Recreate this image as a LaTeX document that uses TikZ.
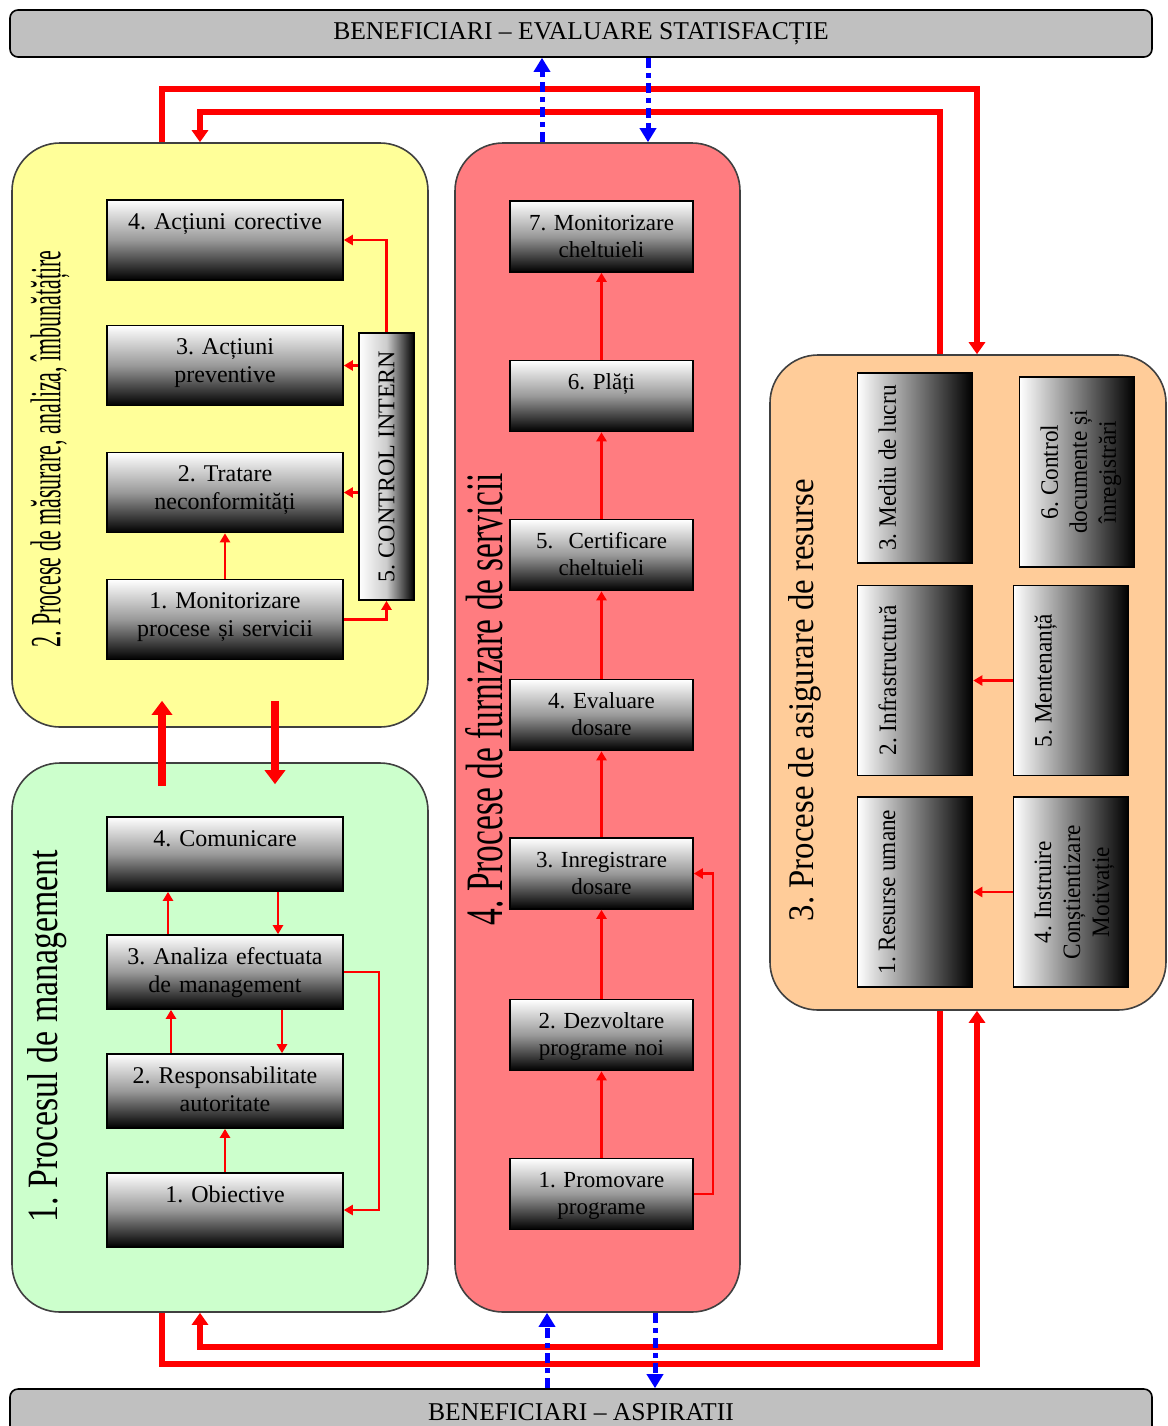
\documentclass[tikz,border=0pt]{standalone}
\usepackage{fontspec}
\setmainfont{Liberation Serif}
\newfontfamily\narrowserif[FakeStretch=0.93]{Liberation Serif}
\usepackage{graphicx}
\frenchspacing
\definecolor{qyellow}{RGB}{255,255,153}
\definecolor{qgreen}{RGB}{204,255,204}
\definecolor{qsalmon}{RGB}{255,124,128}
\definecolor{qpeach}{RGB}{255,204,153}
\definecolor{qgray}{RGB}{192,192,192}
\definecolor{qedge}{RGB}{64,64,64}
\definecolor{qred}{RGB}{255,0,0}
\definecolor{qblue}{RGB}{0,0,255}
\newcommand{\sidetext}[1]{\rotatebox{90}{\parbox[c][57.5pt][t]{92pt}{\vspace{10.5pt}\centering #1}}}
\usetikzlibrary{arrows.meta,positioning,calc}

\begin{document}
\begin{tikzpicture}[x=0.5pt,y=-0.5pt,
  area/.style={draw=qedge,line width=0.8pt,rounded corners=24pt},
  banner/.style={draw=black,line width=0.8pt,fill=qgray,rounded corners=4pt,
    minimum width=571pt,minimum height=23.5pt,font=\fontsize{12.8}{15}\selectfont},
  arealabel/.style={rotate=90,inner sep=0pt},
  procbox/.style={draw=black,line width=0.8pt,top color=white,bottom color=black,
    middle color=black!40,align=center,inner sep=2pt,text height=12.5pt,
    font=\fontsize{12}{14}\selectfont},
  ybox/.style={procbox,text width=114pt,text depth=23.5pt},
  gbox/.style={procbox,text width=114pt,text depth=20.5pt},
  sbox/.style={procbox,text width=87.5pt,text depth=19pt,font=\fontsize{11.5}{13.5}\selectfont},
  rbox/.style={draw=black,line width=0.8pt,left color=white,right color=black,
    minimum width=57.5pt,minimum height=95pt,inner sep=0pt,
    font=\narrowserif\fontsize{12.5}{14.5}\selectfont},
  ctrlbox/.style={draw=black,line width=0.8pt,left color=white,right color=black,
    middle color=black!20,minimum width=27.5pt,minimum height=133.5pt,inner sep=0pt,
    font=\fontsize{12}{14}\selectfont},
  thinarrow/.style={qred,line width=1.2pt,-{Triangle[width=5pt,length=4.5pt]}},
  looparrow/.style={qred,line width=3pt,-{Triangle[width=8pt,length=6pt]}},
  fatarrow/.style={qred,line width=4pt,-{Triangle[width=10pt,length=7pt]}},
  bluearrow/.style={qblue,line width=2.5pt,dash pattern=on 5pt off 2.5pt on 2.5pt off 2.5pt,
    -{Triangle[width=8pt,length=7pt]}}]
  \useasboundingbox (0,0) rectangle (1168,1426);
  % beneficiaries
  \node[banner] (topb) at (581,33.5) {BENEFICIARI -- EVALUARE STATISFACȚIE};
  \node[banner] (botb) at (581,1412.5) {BENEFICIARI -- ASPIRATII};
  % process areas
  \node[area,fill=qyellow,minimum width=208pt,minimum height=292pt] (meas) at (220,435) {};
  \node[area,fill=qgreen,minimum width=208pt,minimum height=274.5pt] (mgmt) at (220,1037.5) {};
  \node[area,fill=qsalmon,minimum width=142.5pt,minimum height=584.5pt] (serv) at (597.5,727.5) {};
  \node[area,fill=qpeach,minimum width=198pt,minimum height=327.5pt] (res) at (968,682.5) {};
  \node[arealabel] (measlbl) at (50,449) {\resizebox{198.5pt}{15pt}{2. Procese de măsurare, analiza, îmbunătățire}};
  \node[arealabel] (mgmtlbl) at (47,1036) {\resizebox{186pt}{15pt}{1. Procesul de management}};
  \node[arealabel] (servlbl) at (484,699) {\resizebox{226pt}{18.5pt}{4. Procese de furnizare de servicii}};
  \node[arealabel] (reslbl) at (805,700) {\resizebox{221pt}{12.5pt}{3. Procese de asigurare de resurse}};

  % 2. masurare, analiza
  \node[ybox] (a4) at (225,240) {4. Acțiuni corective};
  \node[ybox] (a3) at (225,365.5) {3. Acțiuni\\preventive};
  \node[ybox] (a2) at (225,492.5) {2. Tratare\\neconformități};
  \node[ybox] (a1) at (225,619.5) {1. Monitorizare\\procese și servicii};
  \node[ctrlbox] (ctrl) at (386.5,466.5) {\rotatebox{90}{5. CONTROL INTERN}};
  \draw[thinarrow] (a1) -- (a2);
  \draw[thinarrow] (a1.east) -| (ctrl.south);
  \draw[thinarrow] (ctrl.west |- a2) -- (a2.east);
  \draw[thinarrow] (ctrl.west |- a3) -- (a3.east);
  \draw[thinarrow] (ctrl.north) |- (a4.east);

  % 1. management
  \node[gbox] (m4) at (225,854) {4. Comunicare};
  \node[gbox] (m3) at (225,972) {3. Analiza efectuata\\de management};
  \node[gbox] (m2) at (225,1091) {2. Responsabilitate\\autoritate};
  \node[gbox] (m1) at (225,1210) {1. Obiective};
  \draw[thinarrow] ([xshift=-28.5pt]m3.north) -- ([xshift=-28.5pt]m4.south);
  \draw[thinarrow] ([xshift=26.5pt]m4.south) -- ([xshift=26.5pt]m3.north);
  \draw[thinarrow] ([xshift=-27pt]m2.north) -- ([xshift=-27pt]m3.south);
  \draw[thinarrow] ([xshift=28.5pt]m3.south) -- ([xshift=28.5pt]m2.north);
  \draw[thinarrow] (m1) -- (m2);
  \draw[thinarrow] (m3.east) -- ++(17.5pt,0) |- (m1.east);

  % 4. furnizare de servicii
  \node[sbox] (s7) at (601.5,236.5) {7. Monitorizare\\cheltuieli};
  \node[sbox] (s6) at (601.5,396) {6. Plăți};
  \node[sbox] (s5) at (601.5,555) {5.\ \ Certificare\\cheltuieli};
  \node[sbox] (s4) at (601.5,715) {4. Evaluare\\dosare};
  \node[sbox] (s3) at (601.5,873.5) {3. Inregistrare\\dosare};
  \node[sbox] (s2) at (601.5,1035) {2. Dezvoltare\\programe noi};
  \node[sbox] (s1) at (601.5,1194) {1. Promovare\\programe};
  \foreach \i/\j in {1/2,2/3,3/4,4/5,5/6,6/7}
    \draw[thinarrow] (s\i) -- (s\j);
  \draw[thinarrow] (s1.east) -- ++(9.5pt,0) |- (s3.east);

  % 3. asigurare de resurse
  \node[rbox] (r3) at (915,468) {\sidetext{3. Mediu de lucru}};
  \node[rbox] (r6) at (1077,472) {\sidetext{6. Control\\documente și\\înregistrări}};
  \node[rbox] (r2) at (915,680.5) {\sidetext{2. Infrastructură}};
  \node[rbox] (r5) at (1071,680.5) {\sidetext{5. Mentenanță}};
  \node[rbox] (r1) at (915,892) {\sidetext{1. Resurse umane}};
  \node[rbox] (r4) at (1071,892) {\sidetext{4. Instruire\\Conștientizare\\Motivație}};
  \draw[thinarrow] (r5) -- (r2);
  \draw[thinarrow] (r4) -- (r1);

  % links between areas
  \draw[fatarrow] ([shift={(-29pt,-12pt)}]mgmt.north) -- ([shift={(-29pt,13.5pt)}]meas.south);
  \draw[fatarrow] ([shift={(27.5pt,13.5pt)}]meas.south) -- ([shift={(27.5pt,-11pt)}]mgmt.north);
  \draw[looparrow] ([xshift=-29pt]meas.north) -- ++(0,26.5pt) -| ([xshift=4.5pt]res.north);
  \draw[looparrow] ([xshift=-14pt]res.north) -- ++(0,121pt) -| ([xshift=-10pt]meas.north);
  \draw[looparrow] ([xshift=-29pt]mgmt.south) -- ++(0,-25.5pt) -| ([xshift=4.5pt]res.south);
  \draw[looparrow] ([xshift=-14pt]res.south) -- ++(0,-168pt) -| ([xshift=-10pt]mgmt.south);

  % beneficiaries feedback
  \coordinate (bu1) at ([xshift=-27.75pt]serv.north);
  \coordinate (bd1) at ([xshift=25.25pt]serv.north);
  \coordinate (bu2) at ([xshift=-25.25pt]serv.south);
  \coordinate (bd2) at ([xshift=28.75pt]serv.south);
  \draw[bluearrow] (bu1) -- (bu1 |- topb.south);
  \draw[bluearrow] (bd1 |- topb.south) -- (bd1);
  \draw[bluearrow] (bu2 |- botb.north) -- (bu2);
  \draw[bluearrow] (bd2) -- (bd2 |- botb.north);
\end{tikzpicture}
\end{document}
